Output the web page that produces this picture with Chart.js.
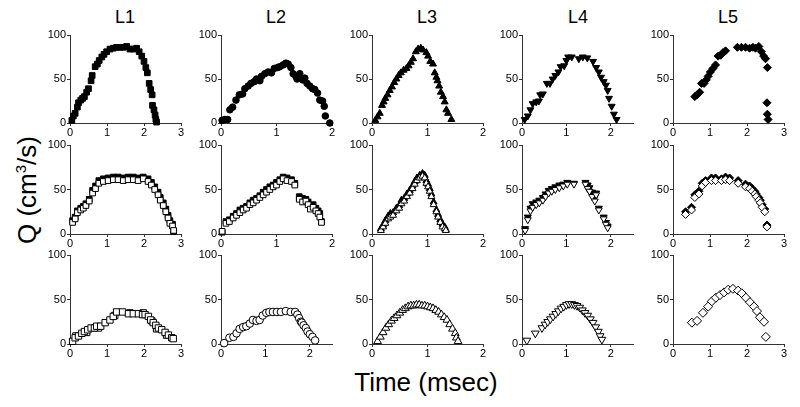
<!DOCTYPE html>
<html><head><meta charset="utf-8">
<script src="https://cdn.jsdelivr.net/npm/chart.js@4.4.0/dist/chart.umd.min.js"></script>
<style>
body{margin:0;background:#fff;width:800px;height:407px;position:relative;overflow:hidden;font-family:Arial,"Liberation Sans",sans-serif;color:#000;}
canvas{position:absolute;}
.t{position:absolute;font-size:18px;top:7px;transform:translateX(-50%);white-space:nowrap;}
#yl{position:absolute;left:27px;top:190px;font-size:26px;transform:translate(-50%,-50%) rotate(-90deg);white-space:nowrap;}
#yl sup{font-size:15px;vertical-align:10px;line-height:0;}
#xl{position:absolute;left:426px;top:367px;font-size:26px;transform:translateX(-50%);white-space:nowrap;}
</style>
</head><body>
<div class="t" style="left:125px">L1</div>
<div class="t" style="left:276px">L2</div>
<div class="t" style="left:427px">L3</div>
<div class="t" style="left:578px">L4</div>
<div class="t" style="left:728px">L5</div>
<div id="yl">Q (cm<sup>3</sup>/s)</div>
<div id="xl">Time (msec)</div>
<script>
// ---------- data ----------
const titles = ["L1","L2","L3","L4","L5"];
const yTicks = [0,50,100];
// Row 1 (filled markers)
const r1L1T = [0.05,0.09,0.14,0.2,0.23,0.29,0.34,0.39,0.45,0.5,0.57,0.6,0.68,0.74,0.79,0.86,0.92,0.99,1.08,1.17,1.26,1.35,1.44,1.53,1.62,1.71,1.8,1.87,1.94,2.0,2.05,2.09,2.14,2.18,2.22,2.23,2.27,2.3,2.32,2.34];
const r1L1Q = [3,8,11,18,23,26,28,30,35,39,48,54,64,67,71,75,78,81,84,85,86,86,86,87,84,84,85,81,76,70,63,57,45,38,32,20,15,9,4,1];
const r1L2T = [0.02,0.07,0.12,0.16,0.21,0.27,0.33,0.39,0.43,0.49,0.54,0.6,0.64,0.7,0.73,0.79,0.85,0.91,0.96,1.02,1.06,1.12,1.17,1.21,1.26,1.3,1.35,1.37,1.42,1.47,1.51,1.55,1.6,1.65,1.69,1.74,1.78,1.83,1.86,1.88,1.96];
const r1L2Q = [3,4,4,15,18,26,32,33,39,42,45,47,50,48,53,56,58,57,62,63,64,66,68,67,63,56,53,50,56,49,51,45,42,39,38,34,26,25,19,8,0];
const r1L3T = [0.06,0.1,0.14,0.18,0.21,0.24,0.28,0.32,0.36,0.4,0.44,0.48,0.52,0.57,0.62,0.66,0.7,0.74,0.79,0.83,0.88,0.92,0.98,1.01,1.05,1.1,1.13,1.16,1.18,1.21,1.24,1.28,1.31,1.34,1.37,1.43];
const r1L3Q = [3,7,11,20,24,28,32,37,41,46,50,54,57,60,62,65,69,73,81,84,85,83,80,76,70,67,57,52,48,42,35,30,24,15,11,4];
const r1L4T = [0.06,0.13,0.19,0.24,0.32,0.38,0.41,0.47,0.56,0.63,0.69,0.75,0.82,0.87,0.95,1.0,1.04,1.12,1.28,1.37,1.47,1.6,1.67,1.73,1.78,1.84,1.89,1.93,1.96,2.02,2.07,2.13];
const r1L4Q = [4,8,15,22,24,25,32,33,45,45,50,54,58,64,65,71,75,75,73,75,74,70,63,58,52,47,43,37,28,19,10,4];
const r1L5T = [0.59,0.65,0.72,0.77,0.84,0.9,0.95,1.01,1.08,1.15,1.22,1.29,1.35,1.42,1.74,1.85,1.96,2.07,2.16,2.23,2.32,2.39,2.45,2.5,2.55,2.54,2.55,2.57];
const r1L5Q = [30,32,35,45,45,49,53,58,62,66,76,77,80,82,86,86,86,85,86,85,87,81,76,73,63,23,10,4];
// Row 2 (filled + open)
const r2L1T = [0.07,0.14,0.2,0.29,0.36,0.43,0.52,0.61,0.69,0.78,0.9,1.03,1.17,1.3,1.44,1.57,1.71,1.84,1.98,2.11,2.2,2.29,2.38,2.44,2.52,2.59,2.65,2.7,2.77,2.8];
const r2L1Qf = [15,19,26,29,31,34,39,49,54,60,62,63,64,64,63,64,64,63,64,62,58,53,47,41,35,28,21,15,11,3];
const r2L1Qo = [13,17,24,27,29,32,37,46,51,57,59,60,61,61,60,61,61,60,62,59,55,50,44,38,32,25,18,12,9,4];
const r2L2T = [0.02,0.09,0.15,0.22,0.28,0.34,0.4,0.46,0.52,0.58,0.64,0.7,0.76,0.82,0.88,0.94,1.0,1.06,1.12,1.19,1.27,1.33,1.41,1.47,1.53,1.57,1.61,1.66,1.71,1.75,1.78,1.81];
const r2L2Qf = [2,14,16,20,23,27,29,31,35,38,40,43,47,50,53,55,58,61,64,63,61,57,42,40,39,36,32,33,29,26,23,14];
const r2L2Qo = [3,12,14,18,21,24,27,29,33,35,38,41,44,47,50,53,55,59,62,60,59,55,39,36,37,33,28,30,26,23,19,13];
const r2L3T = [0.16,0.2,0.24,0.29,0.33,0.38,0.44,0.49,0.53,0.58,0.63,0.68,0.73,0.77,0.81,0.86,0.91,0.95,0.98,1.01,1.04,1.07,1.11,1.16,1.19,1.23,1.27,1.31,1.33];
const r2L3Qf = [6,10,15,20,23,24,29,32,38,40,45,49,54,59,63,66,68,66,60,56,51,45,36,27,22,16,11,8,5];
const r2L3Qo = [4,8,12,17,19,21,26,29,34,37,42,46,51,56,60,63,65,63,57,53,48,42,33,25,19,13,8,6,4];
const r2L4T = [0.07,0.13,0.19,0.24,0.32,0.39,0.47,0.53,0.6,0.67,0.75,0.84,0.93,1.02,1.17,1.43,1.48,1.52,1.58,1.64,1.67,1.73,1.84,1.89,1.93];
const r2L4Qf = [6,19,29,34,36,38,41,45,49,51,53,55,56,58,57,58,55,52,47,41,46,29,19,13,9];
const r2L4Qo = [4,16,26,30,33,35,38,42,46,48,50,52,54,56,56,56,51,48,42,37,44,27,17,11,7];
const r2L5T = [0.34,0.5,0.59,0.7,0.79,0.88,1.04,1.15,1.31,1.42,1.53,1.76,1.96,2.07,2.14,2.21,2.25,2.32,2.36,2.41,2.48,2.54];
const r2L5Qf = [25,30,44,48,57,60,63,63,62,64,63,60,56,54,51,48,45,41,38,33,28,10];
const r2L5Qo = [22,27,41,45,54,58,60,60,60,61,60,57,53,51,48,45,42,38,35,30,25,8];
// Row 3 (open markers)
const r3L1T = [0.07,0.14,0.23,0.32,0.39,0.48,0.57,0.66,0.72,0.83,0.95,1.08,1.17,1.26,1.42,1.58,1.71,1.85,1.96,2.03,2.12,2.18,2.25,2.32,2.39,2.48,2.57,2.66,2.75,2.79];
const r3L1Q = [3,7,9,12,14,16,18,18,20,20,24,27,31,36,36,34,34,34,33,33,31,27,24,21,18,16,13,10,7,6];
const r3L1bT = [0.16,0.45,0.77,1.21,1.62,1.98,2.21,2.34,2.61];
const r3L1bQ = [9,13,18,32,35,35,26,17,10];
const r3L2T = [0.07,0.19,0.28,0.35,0.42,0.5,0.57,0.65,0.72,0.8,0.87,0.94,1.02,1.09,1.17,1.26,1.35,1.46,1.57,1.67,1.72,1.76,1.8,1.82,1.86,1.91,1.95,2.0,2.06,2.12];
const r3L2Q = [1,7,8,12,17,19,20,23,27,26,27,32,35,36,36,36,36,37,36,36,33,29,25,24,21,18,14,11,8,4];
const r3L3T = [0.1,0.15,0.2,0.25,0.3,0.35,0.4,0.45,0.5,0.55,0.6,0.65,0.7,0.75,0.8,0.85,0.9,0.95,1.0,1.05,1.1,1.15,1.2,1.25,1.3,1.35,1.4,1.45,1.5,1.52,1.55];
const r3L3Q = [3,8,13,18,22,26,29,32,35,38,40,42,43,43,44,44,43,43,42,41,40,38,36,33,30,27,22,17,12,7,3];
const r3L4T = [0.11,0.3,0.45,0.52,0.58,0.64,0.7,0.76,0.82,0.88,0.94,1.0,1.06,1.12,1.18,1.24,1.3,1.36,1.42,1.48,1.54,1.6,1.66,1.72,1.76,1.8];
const r3L4Q = [4,12,18,22,25,28,31,34,37,40,42,44,45,45,44,43,41,38,35,32,28,24,19,14,9,5];
const r3L5T = [0.51,0.65,0.81,0.95,1.05,1.16,1.27,1.38,1.49,1.62,1.76,1.86,1.97,2.08,2.19,2.27,2.35,2.46,2.51];
const r3L5Q = [24,26,35,42,48,52,55,58,61,62,60,57,52,47,42,37,30,25,8];
const xMaxRow1 = [3,2,2,2.5,3];
const xMaxRow2 = [3,2,2,2.5,3];
const xMaxRow3 = [3,2.5,2,2.5,3];

// ---------- layout ----------
const COL_LEFT = [70,221,372,522,673];
const ROW_TOP = [35,145,255];
const ROW_BOT = [123,234,344];
const AREA_W = 111;
const PADL=40, PADT=10, PADR=12, PADB=22;

Chart.defaults.font.family = 'Arial, "Liberation Sans", sans-serif';

function pts(T,Q){ return T.map((t,i)=>({x:t,y:Q[i]})); }
function ds(T,Q,style,filled,r,rot){
  return {data:pts(T,Q), pointStyle:style, pointRadius:r, pointRotation:rot||0,
    backgroundColor: filled ? '#000' : '#fff', borderColor:'#000', borderWidth:1,
    showLine:false, clip:false, pointHoverRadius:r};
}
function panel(col,row,xMax,sets){
  const aL=COL_LEFT[col], aT=ROW_TOP[row], aB=ROW_BOT[row];
  const c=document.createElement('canvas');
  c.width=AREA_W+PADL+PADR; c.height=(aB-aT)+PADT+PADB;
  c.style.left=(aL-PADL)+'px'; c.style.top=(aT-PADT)+'px';
  c.style.width=c.width+'px'; c.style.height=c.height+'px';
  document.body.appendChild(c);
  const axisCol='#333';
  new Chart(c,{type:'scatter',data:{datasets:sets},options:{
    responsive:false, animation:false, devicePixelRatio:1,
    layout:{padding:{left:0,right:PADR,top:PADT,bottom:0}},
    plugins:{legend:{display:false},tooltip:{enabled:false}},
    scales:{
      x:{type:'linear',min:0,max:xMax,
        ticks:{stepSize:1,includeBounds:false,color:'#000',font:{size:11},padding:0,maxRotation:0,autoSkip:false},
        grid:{drawOnChartArea:false,drawTicks:true,tickLength:3,color:axisCol,lineWidth:1},
        border:{display:true,color:axisCol,width:1},
        afterFit(s){s.height=PADB;}},
      y:{type:'linear',min:0,max:100,
        afterBuildTicks(s){s.ticks=yTicks.map(v=>({value:v}));},
        ticks:{color:'#000',font:{size:11},padding:1,autoSkip:false},
        grid:{drawOnChartArea:false,drawTicks:true,tickLength:3,color:axisCol,lineWidth:1},
        border:{display:true,color:axisCol,width:1},
        afterFit(s){s.width=PADL;}}
    }}});
}

// Row 1
panel(0,0,xMaxRow1[0],[ds(r1L1T,r1L1Q,'rect',true,4)]);
panel(1,0,xMaxRow1[1],[ds(r1L2T,r1L2Q,'circle',true,3.3)]);
panel(2,0,xMaxRow1[2],[ds(r1L3T,r1L3Q,'triangle',true,4)]);
panel(3,0,xMaxRow1[3],[ds(r1L4T,r1L4Q,'triangle',true,4,180)]);
panel(4,0,xMaxRow1[4],[ds(r1L5T,r1L5Q,'rectRot',true,4)]);
// Row 2 (open drawn on top: index 0)
panel(0,1,xMaxRow2[0],[ds(r2L1T,r2L1Qo,'rect',false,4),ds(r2L1T,r2L1Qf,'rect',true,4)]);
panel(1,1,xMaxRow2[1],[ds(r2L2T,r2L2Qo,'rect',false,4),ds(r2L2T,r2L2Qf,'rect',true,4)]);
panel(2,1,xMaxRow2[2],[ds(r2L3T,r2L3Qo,'triangle',false,4),ds(r2L3T,r2L3Qf,'triangle',true,4)]);
panel(3,1,xMaxRow2[3],[ds(r2L4T,r2L4Qo,'triangle',false,4,180),ds(r2L4T,r2L4Qf,'triangle',true,4,180)]);
panel(4,1,xMaxRow2[4],[ds(r2L5T,r2L5Qo,'rectRot',false,4),ds(r2L5T,r2L5Qf,'rectRot',true,4)]);
// Row 3
panel(0,2,xMaxRow3[0],[ds(r3L1T,r3L1Q,'rect',false,4.5),ds(r3L1bT,r3L1bQ,'rect',false,4.5)]);
panel(1,2,xMaxRow3[1],[ds(r3L2T,r3L2Q,'circle',false,3.8)]);
panel(2,2,xMaxRow3[2],[ds(r3L3T,r3L3Q,'triangle',false,4.5)]);
panel(3,2,xMaxRow3[3],[ds(r3L4T,r3L4Q,'triangle',false,4.5,180)]);
panel(4,2,xMaxRow3[4],[ds(r3L5T,r3L5Q,'rectRot',false,4.5)]);
</script>
</body></html>
